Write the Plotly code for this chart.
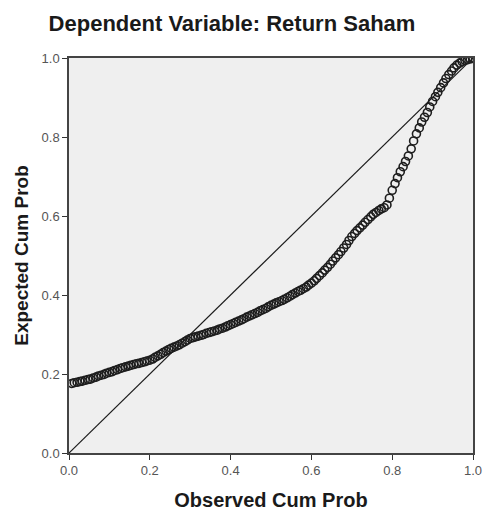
import plotly.graph_objects as go

title_text = "Dependent Variable: Return Saham"
x_title = "Observed Cum Prob"
y_title = "Expected Cum Prob"
tick_vals = [0.0, 0.2, 0.4, 0.6, 0.8, 1.0]
tick_text = ["0.0", "0.2", "0.4", "0.6", "0.8", "1.0"]

observed_cum_prob = [
    0.007, 0.013, 0.020, 0.027, 0.033, 0.040, 0.047, 0.053, 0.060, 0.067,
    0.073, 0.080, 0.087, 0.093, 0.100, 0.107, 0.113, 0.120, 0.127, 0.133,
    0.140, 0.147, 0.153, 0.160, 0.167, 0.173, 0.180, 0.187, 0.193, 0.200,
    0.207, 0.213, 0.220, 0.227, 0.233, 0.240, 0.247, 0.253, 0.260, 0.267,
    0.273, 0.280, 0.287, 0.293, 0.300, 0.307, 0.313, 0.320, 0.327, 0.333,
    0.340, 0.347, 0.353, 0.360, 0.367, 0.373, 0.380, 0.387, 0.393, 0.400,
    0.407, 0.413, 0.420, 0.427, 0.433, 0.440, 0.447, 0.453, 0.460, 0.467,
    0.473, 0.480, 0.487, 0.493, 0.500, 0.507, 0.513, 0.520, 0.527, 0.533,
    0.540, 0.547, 0.553, 0.560, 0.567, 0.573, 0.580, 0.587, 0.593, 0.600,
    0.607, 0.613, 0.620, 0.627, 0.633, 0.640, 0.647, 0.653, 0.660, 0.667,
    0.673, 0.680, 0.687, 0.693, 0.700, 0.707, 0.713, 0.720, 0.727, 0.733,
    0.740, 0.747, 0.753, 0.760, 0.767, 0.773, 0.780, 0.787, 0.793, 0.800,
    0.807, 0.813, 0.820, 0.827, 0.833, 0.840, 0.847, 0.853, 0.860, 0.867,
    0.873, 0.880, 0.887, 0.893, 0.900, 0.907, 0.913, 0.920, 0.927, 0.933,
    0.940, 0.947, 0.953, 0.960, 0.967, 0.973, 0.980, 0.987, 0.993, 1.000,
]

expected_cum_prob = [
    0.176, 0.178, 0.179, 0.181, 0.182, 0.184, 0.186, 0.187, 0.190, 0.192,
    0.195, 0.197, 0.199, 0.202, 0.204, 0.206, 0.209, 0.211, 0.214, 0.216,
    0.218, 0.220, 0.222, 0.224, 0.226, 0.227, 0.229, 0.231, 0.233, 0.235,
    0.238, 0.242, 0.246, 0.250, 0.254, 0.258, 0.262, 0.265, 0.268, 0.271,
    0.274, 0.278, 0.282, 0.286, 0.290, 0.292, 0.294, 0.296, 0.298, 0.300,
    0.303, 0.305, 0.307, 0.309, 0.311, 0.314, 0.316, 0.319, 0.322, 0.325,
    0.328, 0.331, 0.334, 0.337, 0.340, 0.344, 0.347, 0.350, 0.353, 0.356,
    0.360, 0.363, 0.366, 0.370, 0.374, 0.377, 0.380, 0.383, 0.386, 0.389,
    0.393, 0.397, 0.401, 0.405, 0.409, 0.412, 0.416, 0.420, 0.425, 0.430,
    0.436, 0.442, 0.449, 0.456, 0.463, 0.470, 0.478, 0.486, 0.494, 0.502,
    0.510, 0.519, 0.528, 0.538, 0.548, 0.556, 0.563, 0.570, 0.577, 0.584,
    0.591, 0.598, 0.604, 0.609, 0.614, 0.618, 0.621, 0.628, 0.645, 0.665,
    0.682, 0.697, 0.712, 0.725, 0.738, 0.752, 0.770, 0.790, 0.808, 0.823,
    0.838, 0.850, 0.862, 0.876, 0.890, 0.902, 0.913, 0.925, 0.937, 0.948,
    0.958, 0.967, 0.975, 0.982, 0.987, 0.991, 0.994, 0.996, 0.998, 0.999,
]

diag_x = [0.0, 1.0]
diag_y = [0.0, 1.0]

FONT = "Liberation Sans, Arial, sans-serif"

W, H = 483, 516

fig = go.Figure()
fig.add_trace(go.Scatter(
    x=diag_x, y=diag_y, mode="lines",
    line=dict(color="#1a1a1a", width=1.2),
    hoverinfo="skip", showlegend=False,
))
fig.add_trace(go.Scatter(
    x=observed_cum_prob, y=expected_cum_prob, mode="markers",
    marker=dict(symbol="circle-open", size=8, color="#1e1e1e",
                line=dict(width=1.6, color="#1e1e1e")),
    showlegend=False,
))

axis_common = dict(
    range=[0, 1], tickvals=tick_vals, ticktext=tick_text,
    ticks="outside", ticklen=5, tickwidth=1, tickcolor="#333",
    showline=True, linecolor="#444", linewidth=1.5, mirror=True,
    showgrid=False, zeroline=False, automargin=False,
    tickfont=dict(family=FONT, size=13, color="#555"),
)

fig.update_layout(
    width=W, height=H,
    margin=dict(l=69, r=10, t=58, b=63),
    paper_bgcolor="white", plot_bgcolor="#efefef",
    title=dict(text="<b>" + title_text + "</b>", x=232 / W, xanchor="center",
               y=1 - 23 / H, yanchor="middle",
               font=dict(family=FONT, size=22, color="#1a1a1a")),
    xaxis=dict(**axis_common,
               title=dict(text="<b>" + x_title + "</b>", standoff=16,
                          font=dict(family=FONT, size=20, color="#1a1a1a"))),
    yaxis=dict(**axis_common,
               title=dict(text="<b>" + y_title + "</b>", standoff=8,
                          font=dict(family=FONT, size=19, color="#1a1a1a"))),
)

fig.write_html(
    "out.html",
    config={"displayModeBar": False},
    post_script="document.body.style.margin='0';document.body.style.overflow='hidden';",
)
